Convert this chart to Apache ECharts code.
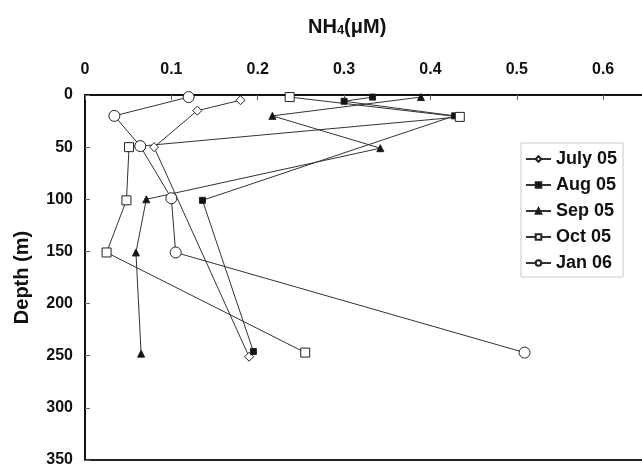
<!DOCTYPE html>
<html>
<head>
<meta charset="utf-8">
<script src="https://cdn.jsdelivr.net/npm/echarts@6/dist/echarts.min.js"></script>
<style>
html,body{margin:0;padding:0;background:#fff;}
#chart{width:642px;height:468px;}
</style>
</head>
<body>
<div id="chart"></div>
<script>
// NH4 (µM) readings and sampling depths (m)
const seriesNames = ['July 05', 'Aug 05', 'Sep 05', 'Oct 05', 'Jan 06'];
const julyDepth = [5, 15, 50, 251];
const julyNH4   = [0.180, 0.130, 0.080, 0.190];
const augDepth  = [2, 6, 20, 101, 246];
const augNH4    = [0.333, 0.300, 0.428, 0.136, 0.195];
const sepDepth  = [2, 20, 51, 100, 151, 248];
const sepNH4    = [0.389, 0.217, 0.342, 0.071, 0.059, 0.065];
const octDepth  = [2, 21, 50, 101, 151, 247];
const octNH4    = [0.237, 0.434, 0.051, 0.048, 0.025, 0.255];
const janDepth  = [2, 20, 49, 99, 151, 247];
const janNH4    = [0.120, 0.034, 0.064, 0.100, 0.105, 0.509];
const xTicks = [0, 0.1, 0.2, 0.3, 0.4, 0.5, 0.6];
const yTicks = [0, 50, 100, 150, 200, 250, 300, 350];

function pairs(xs, ds) { return xs.map((v, i) => [v, ds[i]]); }

const FONT = '"Liberation Sans", Arial, sans-serif';
const LINE = '#333';

function mk(name, xs, ds, symbol, size, fill) {
  return {
    name: name, type: 'line', data: pairs(xs, ds),
    symbol: symbol, symbolSize: size, showSymbol: true,
    lineStyle: { color: LINE, width: 1 },
    itemStyle: { color: fill, borderColor: '#222', borderWidth: 1 },
    emphasis: { disabled: true },
    animation: false, z: 3
  };
}

const chart = echarts.init(document.getElementById('chart'));
chart.setOption({
  backgroundColor: '#fff',
  animation: false,
  title: {
    text: '{a|NH}{s|4}{a|(μM)}',
    left: 303, top: 12,
    textStyle: {
      rich: {
        a: { fontFamily: FONT, fontWeight: 'bold', fontSize: 20, color: '#111' },
        s: { fontFamily: FONT, fontWeight: 'bold', fontSize: 13, color: '#111', verticalAlign: 'bottom', padding: [7, 0, 0, 0] }
      }
    }
  },
  legend: {
    data: seriesNames,
    orient: 'vertical',
    left: 521, top: 143,
    padding: [6, 6, 4, 4],
    itemWidth: 25, itemHeight: 7, itemGap: 6,
    borderColor: '#c8c8c8', borderWidth: 1,
    backgroundColor: '#fff',
    textStyle: { fontFamily: FONT, fontWeight: 'bold', fontSize: 18, color: '#111', lineHeight: 20 }
  },
  grid: { left: 85, top: 95, right: 0, bottom: 6, show: false },
  xAxis: [{
    type: 'value', position: 'top', min: 0, max: 0.645, interval: 0.1,
    axisLine: { show: true, lineStyle: { color: '#111', width: 2 } },
    axisTick: { show: true, inside: true, length: 5, lineStyle: { color: '#666' } },
    splitLine: { show: false },
    axisLabel: {
      fontFamily: FONT, fontWeight: 'bold', fontSize: 16, color: '#111', margin: 17,
      showMaxLabel: false,
      formatter: function (v) { return xTicks.indexOf(+v.toFixed(1)) >= 0 && Math.abs(v - +v.toFixed(1)) < 1e-6 ? String(+v.toFixed(1)) : ''; }
    }
  }, {
    type: 'value', position: 'bottom', min: 0, max: 0.645,
    axisLine: { show: true, lineStyle: { color: '#222', width: 2 } },
    axisTick: { show: false }, axisLabel: { show: false }, splitLine: { show: false }
  }],
  yAxis: {
    type: 'value', inverse: true, min: 0, max: 350, interval: 50,
    name: 'Depth (m)', nameLocation: 'middle', nameGap: 53, nameRotate: 90,
    nameTextStyle: { fontFamily: FONT, fontWeight: 'bold', fontSize: 20, color: '#111' },
    axisLine: { show: true, lineStyle: { color: '#111', width: 2 } },
    axisTick: { show: true, inside: true, length: 5, lineStyle: { color: '#666' } },
    splitLine: { show: false },
    axisLabel: {
      fontFamily: FONT, fontWeight: 'bold', fontSize: 16, color: '#111', margin: 12,
      formatter: function (v) { return yTicks.indexOf(v) >= 0 ? String(v) : ''; }
    }
  },
  series: [
    mk('July 05', julyNH4, julyDepth, 'diamond', 9, '#fff'),
    mk('Aug 05', augNH4, augDepth, 'rect', 6, '#111'),
    mk('Sep 05', sepNH4, sepDepth, 'triangle', 7, '#111'),
    mk('Oct 05', octNH4, octDepth, 'rect', 9, '#fff'),
    mk('Jan 06', janNH4, janDepth, 'circle', 11, '#fff')
  ]
});
</script>
</body>
</html>
